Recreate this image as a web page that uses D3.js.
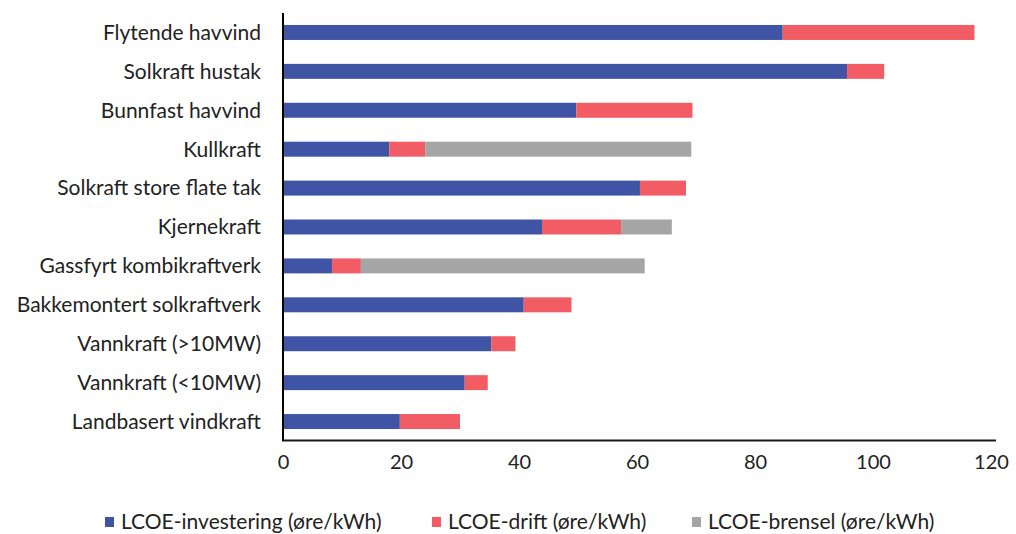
<!DOCTYPE html>
<html>
<head>
<meta charset="utf-8">
<script src="https://cdn.jsdelivr.net/npm/d3@7"></script>
<style>
  body { margin: 0; background: #fff; }
  svg { font-family: Lato, "Open Sans", sans-serif; }
</style>
</head>
<body>
<svg id="chart" width="1016" height="534"></svg>
<script>
// Categories, top to bottom
const categories = [
    "Flytende havvind", "Solkraft hustak", "Bunnfast havvind", "Kullkraft",
    "Solkraft store flate tak", "Kjernekraft", "Gassfyrt kombikraftverk",
    "Bakkemontert solkraftverk", "Vannkraft (>10MW)", "Vannkraft (<10MW)",
    "Landbasert vindkraft"
];

// Series values (øre/kWh)
const investering = [84.7, 95.6, 49.7, 18.0, 60.5, 43.9, 8.3, 40.8, 35.3, 30.8, 19.8];
const drift       = [32.5, 6.3, 19.7, 6.1, 7.8, 13.4, 4.9, 8.1, 4.1, 3.9, 10.2];
const brensel     = [0, 0, 0, 45.1, 0, 8.6, 48.1, 0, 0, 0, 0];

const seriesNames = ["LCOE-investering (øre/kWh)", "LCOE-drift (øre/kWh)", "LCOE-brensel (øre/kWh)"];
const seriesKeys = ["inv", "drift", "brensel"];
const colors = ["#4054A5", "#F25C64", "#A5A5A5"];
const xTicks = [0, 20, 40, 60, 80, 100, 120];

const rows = categories.map((c, i) => ({
    cat: c, inv: investering[i], drift: drift[i], brensel: brensel[i]
}));

const svg = d3.select("#chart");

const x = d3.scaleLinear()
    .domain([0, 120])
    .range([283, 991]);

const y = d3.scaleBand()
    .domain(categories)
    .range([13, 441])
    .paddingInner(0.615)
    .paddingOuter(0.3075);

const color = d3.scaleOrdinal().domain(seriesKeys).range(colors);

const stacked = d3.stack().keys(seriesKeys)(rows);

// Bars
svg.append("g")
    .selectAll("g")
    .data(stacked)
    .join("g")
        .attr("fill", d => color(d.key))
    .selectAll("rect")
    .data(d => d.filter(p => p[1] - p[0] > 0))
    .join("rect")
        .attr("x", d => x(d[0]))
        .attr("width", d => x(d[1]) - x(d[0]))
        .attr("y", d => y(d.data.cat))
        .attr("height", y.bandwidth());

// X axis (no tick marks, own baseline)
const xAxis = svg.append("g")
    .attr("transform", "translate(0,440)")
    .call(d3.axisBottom(x).tickValues(xTicks).tickSize(0).tickPadding(15));
xAxis.select(".domain").remove();
xAxis.selectAll("text")
    .attr("font-size", "20px")
    .attr("fill", "#222")
    .style("font-family", "Lato, sans-serif");

svg.append("line")
    .attr("x1", x(0) - 1).attr("x2", 996)
    .attr("y1", 440.5).attr("y2", 440.5)
    .attr("stroke", "#1a1a1a")
    .attr("stroke-width", 2);

// Y axis line
svg.append("line")
    .attr("x1", x(0)).attr("x2", x(0))
    .attr("y1", 13).attr("y2", 441)
    .attr("stroke", "#000")
    .attr("stroke-width", 2);

// Category labels
svg.append("g")
    .selectAll("text")
    .data(categories)
    .join("text")
        .attr("x", 261)
        .attr("y", d => y(d) + y.bandwidth() / 2)
        .attr("dy", "0.35em")
        .attr("text-anchor", "end")
        .attr("font-size", "21px")
        .attr("fill", "#222")
        .text(d => d);

// Legend
const legendX = [105, 432, 692];
const legend = svg.append("g")
    .selectAll("g")
    .data(seriesNames)
    .join("g")
        .attr("transform", (d, i) => `translate(${legendX[i]},522)`);

legend.append("rect")
    .attr("x", 0).attr("y", -5)
    .attr("width", 9).attr("height", 10)
    .attr("fill", (d, i) => colors[i]);

legend.append("text")
    .attr("x", 16)
    .attr("dy", "0.35em")
    .attr("font-size", "21px")
    .attr("fill", "#222")
    .text(d => d);
</script>
</body>
</html>
